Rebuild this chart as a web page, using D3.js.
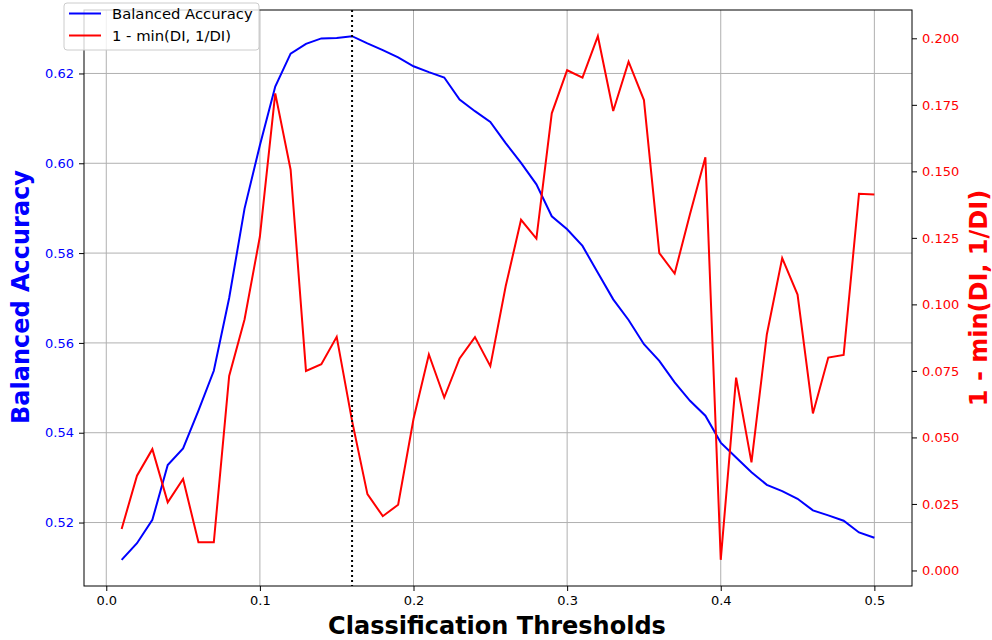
<!DOCTYPE html>
<html>
<head>
<meta charset="utf-8">
<script src="https://cdn.jsdelivr.net/npm/d3@7"></script>
<style>
  body { margin: 0; background: #fff; }
  svg { font-family: "DejaVu Sans", sans-serif; }
</style>
</head>
<body>
<svg id="chart" width="992" height="640"></svg>
<script>
// thresholds 0.01 .. 0.50
const thresholds = [0.01,0.02,0.03,0.04,0.05,0.06,0.07,0.08,0.09,0.10,
  0.11,0.12,0.13,0.14,0.15,0.16,0.17,0.18,0.19,0.20,
  0.21,0.22,0.23,0.24,0.25,0.26,0.27,0.28,0.29,0.30,
  0.31,0.32,0.33,0.34,0.35,0.36,0.37,0.38,0.39,0.40,
  0.41,0.42,0.43,0.44,0.45,0.46,0.47,0.48,0.49,0.50];

const balancedAcc = [0.5117,0.5154,0.5206,0.5328,0.5365,0.5449,0.5538,0.5700,0.5899,0.6040,
  0.6171,0.6244,0.6266,0.6278,0.6279,0.6283,0.6267,0.6252,0.6236,0.6216,
  0.6203,0.6191,0.6142,0.6116,0.6092,0.6045,0.6001,0.5953,0.5882,0.5853,
  0.5816,0.5756,0.5697,0.5651,0.5597,0.5560,0.5512,0.5471,0.5438,0.5378,
  0.5345,0.5312,0.5284,0.5270,0.5253,0.5227,0.5216,0.5204,0.5178,0.5166];

const diScore = [0.0156,0.0356,0.0456,0.0256,0.0344,0.0106,0.0106,0.0731,0.0943,0.1255,
  0.1793,0.1506,0.0750,0.0775,0.0878,0.0562,0.0287,0.0204,0.0247,0.0569,
  0.0812,0.0650,0.0797,0.0877,0.0768,0.1068,0.1318,0.1247,0.1718,0.1880,
  0.1852,0.2008,0.1727,0.1912,0.1768,0.1193,0.1116,0.1340,0.1553,0.0040,
  0.0725,0.0406,0.0887,0.1174,0.1037,0.0590,0.0800,0.0810,0.1416,0.1413];

const bestThreshold = 0.16;

const xTicks = [0.0, 0.1, 0.2, 0.3, 0.4, 0.5];
const leftTicks = [0.52, 0.54, 0.56, 0.58, 0.60, 0.62];
const rightTicks = [0.000, 0.025, 0.050, 0.075, 0.100, 0.125, 0.150, 0.175, 0.200];

const seriesNames = ["Balanced Accuracy", "1 - min(DI, 1/DI)"];

const svg = d3.select("#chart");
const L = 84, R = 912, T = 10, B = 586;

// matplotlib-like 5% margins
function padded(arr) {
  const e = d3.extent(arr), p = (e[1] - e[0]) * 0.05;
  return [e[0] - p, e[1] + p];
}

const x = d3.scaleLinear().domain(padded(thresholds)).range([L, R]);
const yL = d3.scaleLinear().domain(padded(balancedAcc)).range([B, T]);
const yR = d3.scaleLinear().domain(padded(diScore)).range([B, T]);

// grid
const grid = svg.append("g");
grid.selectAll(".gx").data(xTicks).enter().append("line")
  .attr("x1", d => x(d)).attr("x2", d => x(d)).attr("y1", T).attr("y2", B)
  .attr("stroke", "#b0b0b0").attr("stroke-width", 1);
grid.selectAll(".gy").data(leftTicks).enter().append("line")
  .attr("x1", L).attr("x2", R).attr("y1", d => yL(d)).attr("y2", d => yL(d))
  .attr("stroke", "#b0b0b0").attr("stroke-width", 1);

// lines
const lineL = d3.line().x((d, i) => x(thresholds[i])).y(d => yL(d));
const lineR = d3.line().x((d, i) => x(thresholds[i])).y(d => yR(d));

svg.append("path").datum(balancedAcc).attr("d", lineL)
  .attr("fill", "none").attr("stroke", "blue").attr("stroke-width", 2);
svg.append("path").datum(diScore).attr("d", lineR)
  .attr("fill", "none").attr("stroke", "red").attr("stroke-width", 2);

// best threshold
svg.append("line")
  .attr("x1", x(bestThreshold)).attr("x2", x(bestThreshold)).attr("y1", T).attr("y2", B)
  .attr("stroke", "black").attr("stroke-width", 2).attr("stroke-dasharray", "2,3");

// axes
const ax = svg.append("g").attr("transform", `translate(0,${B})`)
  .call(d3.axisBottom(x).tickValues(xTicks).tickFormat(d3.format(".1f")).tickSize(5).tickPadding(5));
const axL = svg.append("g").attr("transform", `translate(${L},0)`)
  .call(d3.axisLeft(yL).tickValues(leftTicks).tickFormat(d3.format(".2f")).tickSize(5).tickPadding(5));
const axR = svg.append("g").attr("transform", `translate(${R},0)`)
  .call(d3.axisRight(yR).tickValues(rightTicks).tickFormat(d3.format(".3f")).tickSize(5).tickPadding(5));

[ax, axL, axR].forEach(g => {
  g.select(".domain").remove();
  g.selectAll("text").attr("font-size", 13).attr("font-family", "DejaVu Sans");
  g.selectAll("line").attr("stroke", "black");
});
axL.selectAll("text").attr("fill", "blue");
axR.selectAll("text").attr("fill", "red");
ax.selectAll("text").attr("fill", "black");

// frame
svg.append("rect").attr("x", L).attr("y", T).attr("width", R - L).attr("height", B - T)
  .attr("fill", "none").attr("stroke", "black").attr("stroke-width", 1);

// axis labels
svg.append("text").attr("x", 497).attr("y", 634)
  .attr("text-anchor", "middle").attr("font-size", 24).attr("font-weight", "bold")
  .text("Classification Thresholds");
svg.append("text").attr("transform", `translate(29,297) rotate(-90)`)
  .attr("text-anchor", "middle").attr("font-size", 24).attr("font-weight", "bold")
  .attr("fill", "blue").text("Balanced Accuracy");
svg.append("text").attr("transform", `translate(987,298) rotate(-90)`)
  .attr("text-anchor", "middle").attr("font-size", 24).attr("font-weight", "bold")
  .attr("fill", "red").text("1 - min(DI, 1/DI)");

// legend
const leg = svg.append("g").attr("transform", "translate(64,3)");
leg.append("rect").attr("width", 195).attr("height", 47).attr("rx", 3)
  .attr("fill", "white").attr("fill-opacity", 0.8).attr("stroke", "#cccccc");
const colors = ["blue", "red"];
seriesNames.forEach((name, i) => {
  const yy = 10.5 + i * 22;
  leg.append("line").attr("x1", 5).attr("x2", 37).attr("y1", yy).attr("y2", yy)
    .attr("stroke", colors[i]).attr("stroke-width", 2);
  leg.append("text").attr("x", 48).attr("y", yy + 5).attr("font-size", 14.8).text(name);
});
</script>
</body>
</html>
